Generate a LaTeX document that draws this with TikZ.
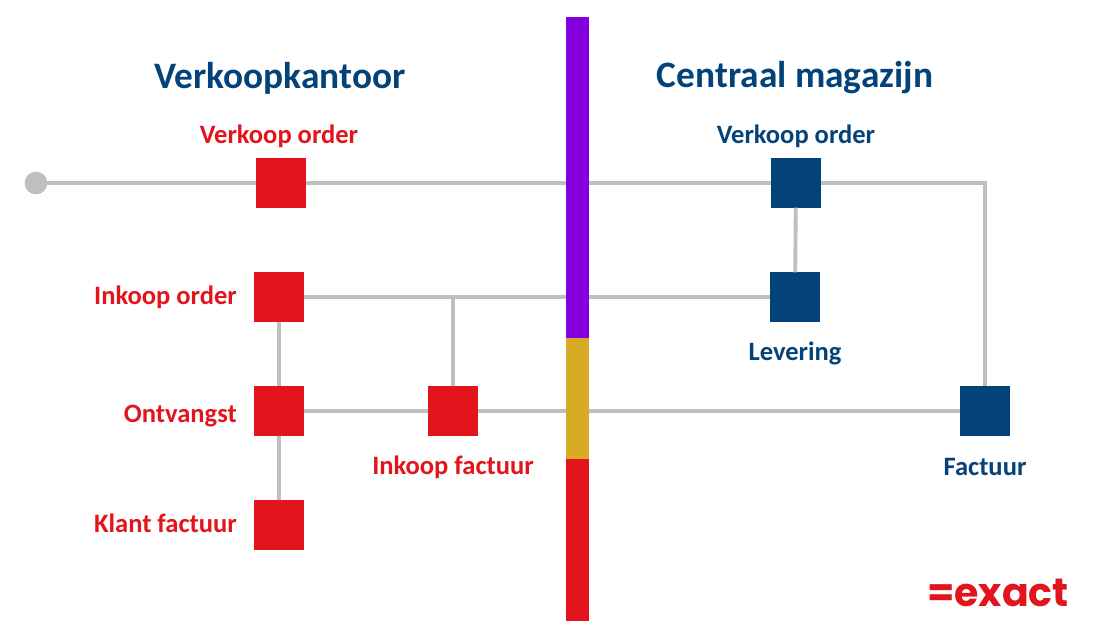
\documentclass[tikz,border=0pt]{standalone}
\usepackage{fontspec}
\setmainfont{Carlito}
\newfontfamily\logofont{Poppins}
\definecolor{myred}{HTML}{E2141C}
\definecolor{myblue}{HTML}{03437A}
\definecolor{mygray}{HTML}{BFBFBF}
\definecolor{mypurple}{HTML}{8500DE}
\definecolor{mygold}{HTML}{D8AB26}
\tikzset{
 x=0.02635cm,y=-0.02635cm,
 redbox/.style={fill=myred,draw=none,minimum size=1.3cm,inner sep=0,outer sep=0},
 bluebox/.style={fill=myblue,draw=none,minimum size=1.3cm,inner sep=0,outer sep=0},
 conn/.style={draw=mygray,line width=2.9pt},
 redlab/.style={text=myred,font=\fontsize{19.9}{22}\selectfont\bfseries,inner sep=0},
 bluelab/.style={text=myblue,font=\fontsize{19.9}{22}\selectfont\bfseries,inner sep=0},
 head/.style={text=myblue,font=\fontsize{28}{32}\selectfont\bfseries,inner sep=0},
}
\begin{document}
\begin{tikzpicture}
\useasboundingbox (0,0) rectangle (1096,626);
\fill[white] (0,0) rectangle (1096,626);
\node[circle,fill=mygray,minimum size=0.6cm,inner sep=0,outer sep=0] (start) at (36,183) {};
\node[redbox] (vo) at (281,183) {};
\node[redbox] (io) at (279,297) {};
\node[redbox] (ont) at (279,411) {};
\node[redbox] (kf) at (279,525) {};
\node[redbox] (if) at (453,411) {};
\node[bluebox] (bvo) at (796,183) {};
\node[bluebox] (lev) at (795,297) {};
\node[bluebox] (fac) at (985,411) {};
\coordinate (corner) at (985,183);
\coordinate (j1) at (453,297);
\draw[conn] (start) -- (vo);
\draw[conn] (vo) -- (bvo);
\draw[conn] (bvo) -- (corner) -- (fac);
\draw[conn] (bvo) -- (lev);
\draw[conn] (io) -- (lev);
\draw[conn] (j1) -- (if);
\draw[conn] (io) -- (ont);
\draw[conn] (ont) -- (kf);
\draw[conn] (ont) -- (if);
\draw[conn] (if) -- (fac);
\fill[mypurple] (566,17) rectangle (589,338);
\fill[mygold] (566,338) rectangle (589,459);
\fill[myred] (566,459) rectangle (589,621);
\node[head] (h1) at (280,78) {Verkoopkantoor};
\node[head] (h2) at (795,78) {Centraal magazijn};
\node[redlab] (l1) at (279,136) {Verkoop order};
\node[redlab,anchor=east] (l2) at (237,297) {Inkoop order};
\node[redlab,anchor=east] (l3) at (237,416) {Ontvangst};
\node[redlab,anchor=east] (l4) at (237,523.5) {Klant factuur};
\node[redlab] (l5) at (453,467) {Inkoop factuur};
\node[bluelab] (l6) at (796,136) {Verkoop order};
\node[bluelab] (l7) at (795,353) {Levering};
\node[bluelab] (l8) at (985,467) {Factuur};
\node[text=myred,font=\logofont\fontsize{29.6}{34}\selectfont\bfseries,inner sep=0] (logo) at (998,593) {=exact};
\end{tikzpicture}
\end{document}
